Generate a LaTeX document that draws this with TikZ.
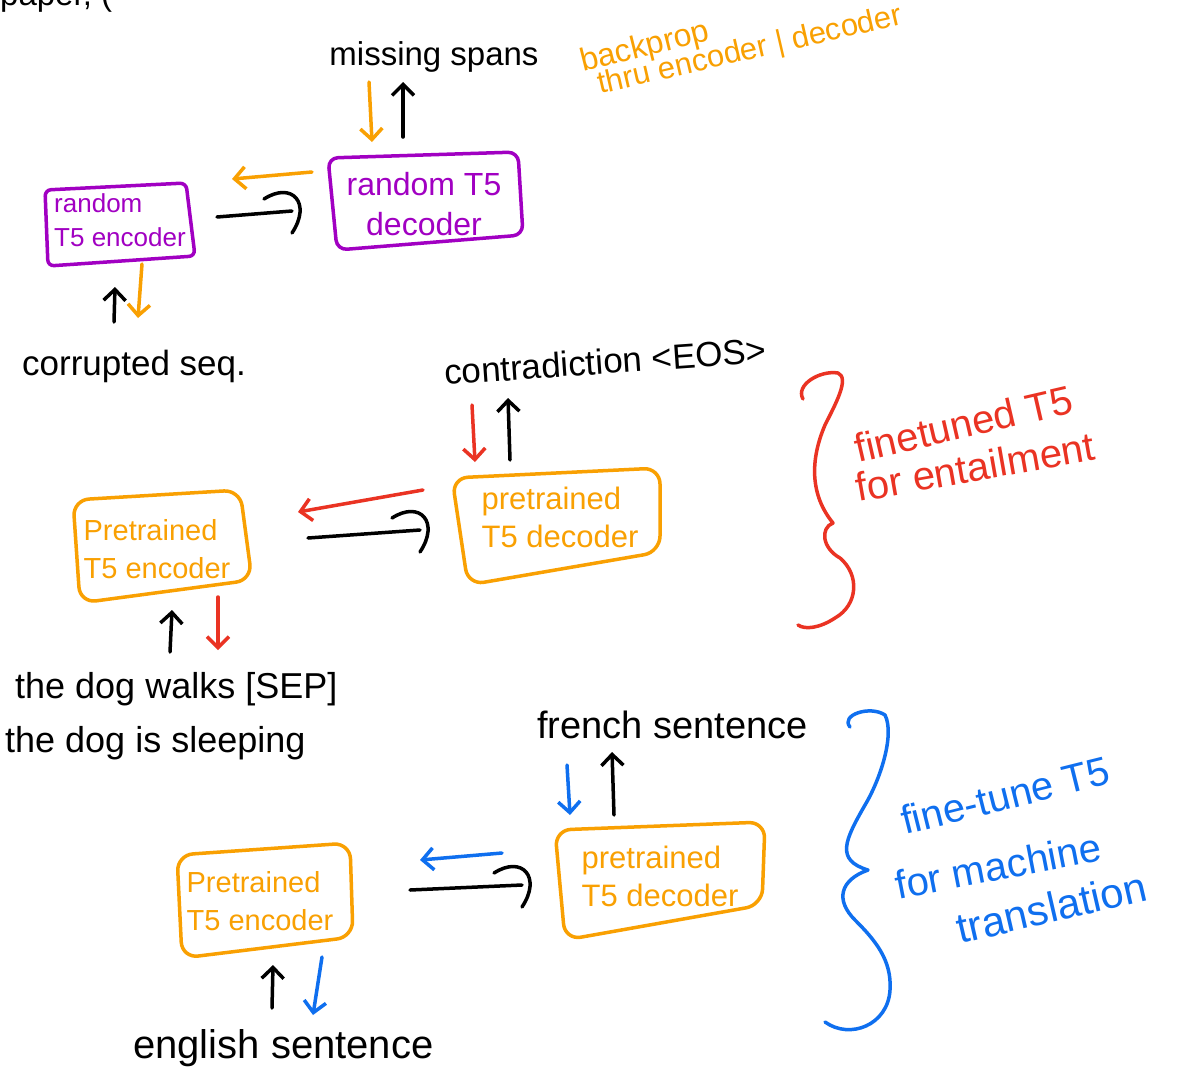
\documentclass[tikz,border=0pt]{standalone}
\usepackage{fontspec}
\setmainfont{Liberation Sans}
\usetikzlibrary{arrows.meta}
\definecolor{inkpurple}{HTML}{A100C2}
\definecolor{inkorange}{HTML}{F9A002}
\definecolor{inkred}{HTML}{EA3323}
\definecolor{inkblue}{HTML}{0F6FEF}
\tikzset{
  ink/.style={line width=3.5pt, line cap=round, line join=round},
  arr/.style={ink, -{Straight Barb[length=11pt,width=22pt]}},
  sz/.style 2 args={font=\fontsize{#1}{#2}\selectfont},
  lbl/.style={inner sep=0pt},
  boxtxt/.style={inner sep=0pt, align=left},
  card/.style={ink, rounded corners=16pt},
  hookhead/.pic={\draw[ink] (-28,-12) .. controls (0,-30) and (20,-8) .. (0,22);},
}
\begin{document}
\begin{tikzpicture}[x=1pt,y=-1pt]
\fill[white] (0,0) rectangle (1193,1074);
\useasboundingbox (0,0) rectangle (1193,1074);

% heading, cut by the top edge
\node[lbl, sz={33}{40}, anchor=base west] (heading) at (0,5) {paper, (};

% ---------- pre-training: random T5 ----------
\node[boxtxt, text=inkpurple, sz={26}{34}] (enc1) at (120,220) {random\\T5 encoder};
\draw[card, inkpurple, rounded corners=6pt] (45,190) -- (186,183) -- (195,256) -- (48,266) -- cycle;
\node[boxtxt, align=center, text=inkpurple, sz={32}{40}] (dec1) at (424,204) {random T5\\decoder};
\draw[card, inkpurple, rounded corners=10pt] (328,158) -- (518,152) -- (523,235) -- (337,250) -- cycle;

\node[lbl, sz={33}{40}, anchor=base] (spans) at (434,65) {missing spans};
\node[lbl, text=inkorange, sz={32}{34}, anchor=base west, rotate=14] (bp1) at (583,72) {backprop};
\node[lbl, text=inkorange, sz={31}{34}, anchor=base west, rotate=13] (bp2) at (600,94) {thru encoder | decoder};
\node[lbl, sz={35}{40}, anchor=base west] (corrupt) at (22,375) {corrupted seq.};

\coordinate (s1) at (369,82);  \coordinate (s2) at (372,142);
\coordinate (s3) at (403,137); \coordinate (s4) at (403,82);
\draw[arr, inkorange] (s1) -- (s2);
\draw[arr] (s3) -- (s4);
\coordinate (b1) at (312,172); \coordinate (b2) at (232,179);
\draw[arr, inkorange] (b1) -- (b2);
\coordinate (f1) at (217,217); \coordinate (f2) at (292,211);
\draw[ink] (f1) -- (f2);
\pic[black] at (f2) {hookhead};
\coordinate (c1) at (114,322); \coordinate (c2) at (115,287);
\draw[arr] (c1) -- (c2);
\coordinate (c3) at (142,264); \coordinate (c4) at (138,318);
\draw[arr, inkorange] (c3) -- (c4);

% ---------- fine-tuning for entailment ----------
\node[boxtxt, text=inkorange, sz={29}{38}] (enc2) at (157,549) {Pretrained\\T5 encoder};
\draw[card, inkorange] (73,500) -- (240,490) -- (252,580) -- (80,603) -- cycle;
\node[boxtxt, text=inkorange, sz={31}{38}] (dec2) at (560,517) {pretrained\\T5 decoder};
\draw[card, inkorange] (452,478) -- (660,468) -- (660,552) -- (468,585) -- cycle;

\node[lbl, sz={35}{40}, anchor=base west, rotate=4] (contra) at (445,385) {contradiction <EOS>};
\node[lbl, sz={36}{40}, anchor=base west] (pair1) at (15,698) {the dog walks [SEP]};
\node[lbl, sz={36}{40}, anchor=base west] (pair2) at (5,752) {the dog is sleeping};

\coordinate (m1) at (472,405); \coordinate (m2) at (475,462);
\draw[arr, inkred] (m1) -- (m2);
\coordinate (m3) at (510,460); \coordinate (m4) at (508,398);
\draw[arr] (m3) -- (m4);
\coordinate (m5) at (423,490); \coordinate (m6) at (298,512);
\draw[arr, inkred] (m5) -- (m6);
\coordinate (m7) at (308,538); \coordinate (m8) at (420,530);
\draw[ink] (m7) -- (m8);
\pic[black] at (m8) {hookhead};
\coordinate (m9) at (170,652); \coordinate (m10) at (172,610);
\draw[arr] (m9) -- (m10);
\coordinate (m11) at (218,597); \coordinate (m12) at (218,650);
\draw[arr, inkred] (m11) -- (m12);

\draw[ink, inkred] (803,399) .. controls (795,385) and (820,370) .. (838,373)
  .. controls (850,378) and (835,405) .. (825,425)
  .. controls (810,460) and (810,495) .. (833,523)
  .. controls (820,528) and (822,548) .. (840,558)
  .. controls (860,575) and (858,605) .. (835,618)
  .. controls (820,628) and (805,630) .. (798,625);
\node[lbl, text=inkred, sz={40}{48}, anchor=base west, rotate=13] (ent1) at (858,463) {finetuned T5};
\node[lbl, text=inkred, sz={40}{48}, anchor=base west, rotate=10] (ent2) at (858,502) {for entailment};

% ---------- fine-tuning for translation ----------
\node[boxtxt, text=inkorange, sz={29}{38}] (enc3) at (260,901) {Pretrained\\T5 encoder};
\draw[card, inkorange] (177,855) -- (350,843) -- (353,937) -- (182,958) -- cycle;
\node[boxtxt, text=inkorange, sz={31}{38}] (dec3) at (660,876) {pretrained\\T5 decoder};
\draw[card, inkorange] (555,830) -- (765,822) -- (762,905) -- (565,940) -- cycle;

\node[lbl, sz={38}{44}, anchor=base west] (french) at (537,738) {french sentence};
\node[lbl, sz={40}{44}, anchor=base west] (english) at (133,1058) {english sentence};

\coordinate (t1) at (567,765); \coordinate (t2) at (570,815);
\draw[arr, inkblue] (t1) -- (t2);
\coordinate (t3) at (614,815); \coordinate (t4) at (612,752);
\draw[arr] (t3) -- (t4);
\coordinate (t5) at (502,853); \coordinate (t6) at (420,860);
\draw[arr, inkblue] (t5) -- (t6);
\coordinate (t7) at (410,890); \coordinate (t8) at (522,885);
\draw[ink] (t7) -- (t8);
\pic[black] at (t8) {hookhead};
\coordinate (t9) at (272,1008); \coordinate (t10) at (273,965);
\draw[arr] (t9) -- (t10);
\coordinate (t11) at (322,957); \coordinate (t12) at (313,1015);
\draw[arr, inkblue] (t11) -- (t12);

\draw[ink, inkblue] (850,727) .. controls (840,715) and (870,705) .. (885,715)
  .. controls (895,735) and (880,780) .. (865,805)
  .. controls (845,840) and (835,860) .. (868,870)
  .. controls (840,880) and (835,900) .. (855,920)
  .. controls (875,940) and (892,960) .. (890,990)
  .. controls (888,1025) and (850,1040) .. (825,1022);
\node[lbl, text=inkblue, sz={40}{48}, anchor=base west, rotate=14] (mt1) at (905,835) {fine-tune T5};
\node[lbl, text=inkblue, sz={40}{48}, anchor=base west, rotate=11] (mt2) at (898,900) {for machine};
\node[lbl, text=inkblue, sz={42}{48}, anchor=base west, rotate=13] (mt3) at (960,944) {translation};
\end{tikzpicture}
\end{document}
